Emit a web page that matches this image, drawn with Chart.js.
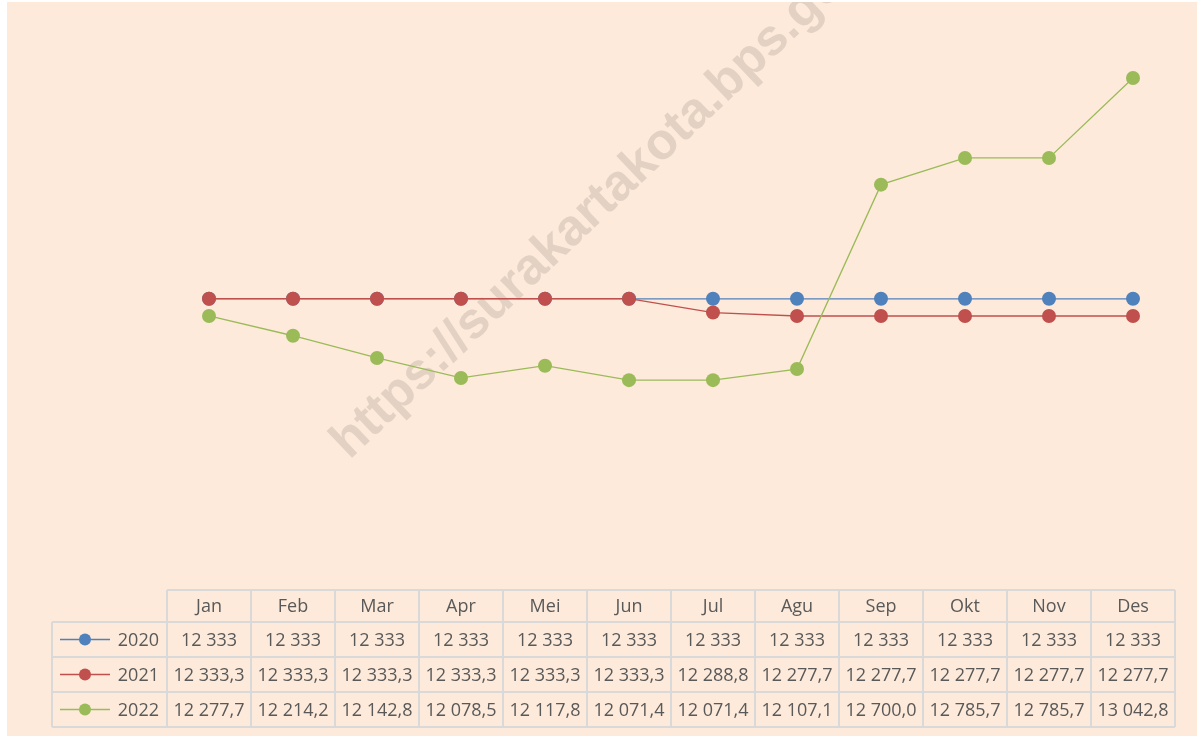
<!DOCTYPE html>
<html>
<head>
<meta charset="utf-8">
<script src="https://cdn.jsdelivr.net/npm/chart.js@4/dist/chart.umd.min.js"></script>
<style>
  html, body { margin: 0; padding: 0; background: #ffffff; }
  #wrap { position: absolute; left: 7px; top: 2px; width: 1190px; height: 734px; background: #FDEADA; overflow: hidden; }
  #wm { position: absolute; left: 348px; top: 413px; font: bold 51px "Liberation Sans", Arial, sans-serif; color: #E3D1C4; white-space: nowrap; transform-origin: 0 100%; transform: rotate(-43.5deg); line-height: 51px; }
  canvas { position: absolute; left: 0; top: 0; }
</style>
</head>
<body>
<div id="wrap">
  <div id="wm">https://surakartakota.bps.go.id</div>
  <canvas id="c" width="1190" height="734"></canvas>
</div>
<script>
const months = ["Jan","Feb","Mar","Apr","Mei","Jun","Jul","Agu","Sep","Okt","Nov","Des"];
const seriesNames = ["2020","2021","2022"];
const data2020 = [12333,12333,12333,12333,12333,12333,12333,12333,12333,12333,12333,12333];
const data2021 = [12333.3,12333.3,12333.3,12333.3,12333.3,12333.3,12288.8,12277.7,12277.7,12277.7,12277.7,12277.7];
const data2022 = [12277.7,12214.2,12142.8,12078.5,12117.8,12071.4,12071.4,12107.1,12700.0,12785.7,12785.7,13042.8];
const decimals = [0, 1, 1];
const colors = ["#4F81BD", "#C0504D", "#9BBB59"];

function fmt(v, d) {
  const s = v.toFixed(d);
  const parts = s.split(".");
  const intPart = parts[0].replace(/\B(?=(\d{3})+(?!\d))/g, " ");
  return parts.length > 1 ? intPart + "," + parts[1] : intPart;
}

const allData = [data2020, data2021, data2022];

const tablePlugin = {
  id: "dataTable",
  afterDraw(chart) {
    const ctx = chart.ctx;
    const xs = chart.scales.x;
    const ca = chart.chartArea;
    const colW = (ca.right - ca.left) / months.length;
    const rowTops = [588, 620, 655, 690, 725];
    const hdrLeft = ca.left - 115;
    ctx.save();
    ctx.strokeStyle = "#D9D9D9";
    ctx.lineWidth = 2;
    ctx.beginPath();
    ctx.moveTo(ca.left, rowTops[0]); ctx.lineTo(ca.right, rowTops[0]);
    for (let r = 1; r < rowTops.length; r++) {
      ctx.moveTo(hdrLeft, rowTops[r]); ctx.lineTo(ca.right, rowTops[r]);
    }
    for (let i = 0; i <= months.length; i++) {
      const x = ca.left + i * colW;
      ctx.moveTo(x, rowTops[0]); ctx.lineTo(x, rowTops[4]);
    }
    ctx.moveTo(hdrLeft, rowTops[1]); ctx.lineTo(hdrLeft, rowTops[4]);
    ctx.stroke();

    ctx.fillStyle = "#595959";
    ctx.font = '18px "Open Sans", sans-serif';
    ctx.textAlign = "center";
    ctx.textBaseline = "middle";
    months.forEach((m, i) => {
      ctx.fillText(m, xs.getPixelForValue(i), (rowTops[0] + rowTops[1]) / 2 + 1);
    });
    allData.forEach((arr, s) => {
      const cy = (rowTops[s + 1] + rowTops[s + 2]) / 2 + 1;
      arr.forEach((v, i) => {
        ctx.fillStyle = "#595959";
        ctx.fillText(fmt(v, decimals[s]), xs.getPixelForValue(i), cy);
      });
      ctx.strokeStyle = colors[s];
      ctx.lineWidth = 1.3;
      ctx.beginPath();
      ctx.moveTo(hdrLeft + 8, cy - 1); ctx.lineTo(hdrLeft + 58, cy - 1);
      ctx.stroke();
      ctx.fillStyle = colors[s];
      ctx.beginPath();
      ctx.arc(hdrLeft + 33, cy - 1, 6, 0, Math.PI * 2);
      ctx.fill();
      ctx.fillStyle = "#595959";
      ctx.textAlign = "right";
      ctx.fillText(seriesNames[s], ca.left - 8, cy);
      ctx.textAlign = "center";
    });
    ctx.restore();
  }
};

const datasets = allData.map((arr, s) => ({
  label: seriesNames[s],
  data: arr,
  borderColor: colors[s],
  backgroundColor: colors[s],
  pointBackgroundColor: colors[s],
  pointBorderColor: colors[s],
  pointBorderWidth: 0,
  pointRadius: 7,
  borderWidth: 1.3,
  tension: 0,
  order: 3 - s
}));

new Chart(document.getElementById("c"), {
  type: "line",
  data: { labels: months, datasets },
  options: {
    responsive: false,
    animation: false,
    layout: { padding: { left: 160, right: 22, top: 11.55, bottom: 178.1 } },
    plugins: { legend: { display: false }, tooltip: { enabled: false } },
    scales: {
      x: { display: false, offset: true },
      y: { display: false, min: 11500, max: 13250 }
    }
  },
  plugins: [tablePlugin]
});
</script>
</body>
</html>
